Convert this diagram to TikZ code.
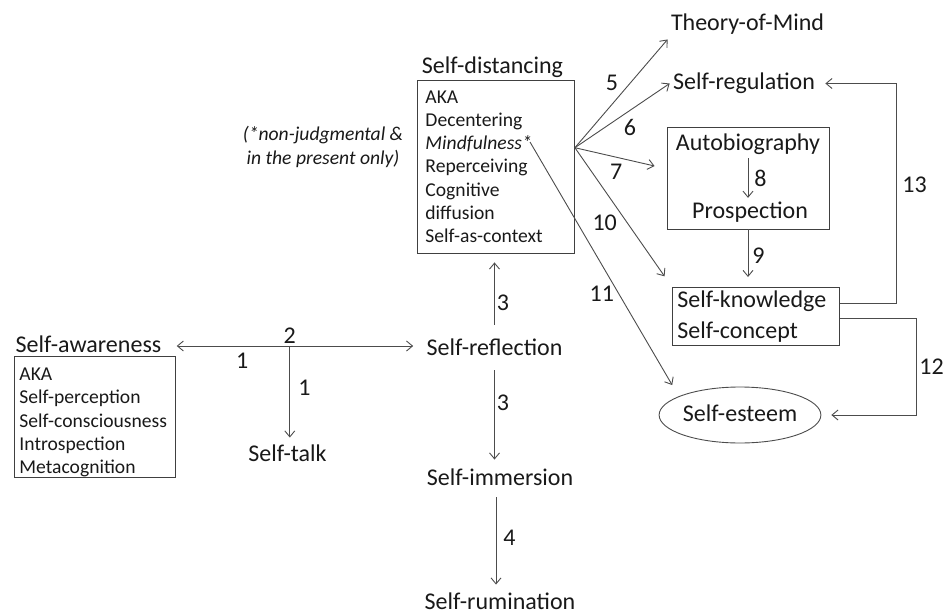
\documentclass[tikz,border=0pt]{standalone}
\usepackage{fontspec}
\setmainfont{Carlito}
\usetikzlibrary{arrows.meta,shapes.geometric}
\newcommand\lblfont{\fontsize{24}{31.7}\selectfont}
\newcommand\boxfont{\fontsize{19.6}{23.3}\selectfont}

\begin{document}
\begin{tikzpicture}[x=1pt,y=-1pt,line width=0.9pt,
  >={Straight Barb[length=6pt,width=10pt]},
  every node/.style={text=black!90},
  lbl/.style={font=\lblfont,text height=17pt,text depth=5pt,inner sep=3pt},
  num/.style={font=\lblfont,inner sep=2pt},
  listbox/.style={draw=black!75,font=\boxfont,align=left,anchor=north west,inner xsep=8pt},
  conn/.style={->,draw=black!70}]
\useasboundingbox (0,0) rectangle (945,615);
\node[lbl,anchor=base] (aware) at (88.5,352) {Self-awareness};
\node[listbox,inner xsep=5pt,inner ysep=0pt,text width=151pt] (awarebox) at (14,356) {\rule{0pt}{24pt}AKA\\Self-perception\\Self-consciousness\\Introspection\\Metacognition};
\node[lbl,anchor=base] (talk) at (287.5,461) {Self-talk};
\node[lbl,anchor=base] (reflect) at (494.5,355) {Self-reflection};
\node[lbl,anchor=base] (immerse) at (500,485) {Self-immersion};
\node[lbl,anchor=base] (rum) at (500,609.5) {Self-rumination};
\node[lbl,anchor=base] (disttitle) at (492.5,74) {Self-distancing};
\node[listbox,inner ysep=10pt,text width=141pt] (distbox) at (417,80) {AKA\\Decentering\\\textit{Mindfulness*}\\Reperceiving\\Cognitive\\diffusion\\Self-as-context};
\node[font=\boxfont\itshape,align=center] (note) at (323,147) {(*non-judgmental \&\\in the present only)};
\node[lbl,anchor=base] (tom) at (747.5,31) {Theory-of-Mind};
\node[lbl,anchor=base] (selfreg) at (744,89.5) {Self-regulation};
\node[draw=black!75,minimum width=162pt,minimum height=102pt] (autobox) at (748,178) {};
\node[lbl,anchor=base] (autobio) at (748,150) {Autobiography};
\node[lbl,anchor=base] (prosp) at (750,218.3) {Prospection};
\node[listbox,font=\lblfont,inner xsep=5pt,inner ysep=3pt,text width=157pt] (knowbox) at (672,287) {Self-knowledge\\Self-concept};
\node[ellipse,draw=black!70,minimum width=135pt,minimum height=56pt,inner sep=0pt,font=\lblfont,text height=17pt,text depth=5pt] (esteem) at (740,415) {Self-esteem};
\coordinate (fan) at ([yshift=19pt]distbox.east);
\coordinate (mindful) at (530,142);
\draw[conn,<->,shorten <=12pt,shorten >=10pt] (aware.east) -- (aware.east -| reflect.west)
  node[num,pos=0.3,below=5pt] {1}
  coordinate[pos=0.484] (split)
  node[num,pos=0.484,above] {2};
\draw[conn,shorten >=3pt] (split) -- (split |- talk.north) node[num,pos=0.44,right=6pt] {1};
\draw[conn,shorten <=10pt,shorten >=9pt] (reflect.north) -- (reflect.north |- distbox.south) node[num,pos=0.39,right] {3};
\draw[conn,shorten <=7pt,shorten >=5pt] (reflect.south) -- (reflect.south |- immerse.north) node[num,pos=0.39,right] {3};
\draw[conn,shorten <=4pt,shorten >=4.5pt] ([xshift=-4pt]immerse.south) -- ([xshift=-4pt]rum.north) node[num,pos=0.466,right=5pt] {4};
\draw[conn] (fan) -- (tom.south west) node[num,pos=0.6,left=10pt] {5};
\draw[conn] (fan) -- (selfreg.west) node[num,pos=0.58,below=6pt] {6};
\draw[conn] (fan) -- ([xshift=-12pt,yshift=12pt]autobox.west) node[num,pos=0.52,below=4pt] {7};
\draw[conn] (autobio) -- (autobio |- prosp.north) node[num,midway,right=4pt] {8};
\draw[conn,shorten >=10pt] (autobox.south) -- (autobox.south |- knowbox.north) node[num,pos=0.45,right=2pt] {9};
\draw[conn,shorten >=13pt] (fan) -- (knowbox.north west) node[num,pos=0.54,left=8pt] {10};
\draw[conn,shorten >=13pt] (mindful) -- (esteem.163) node[num,pos=0.595,left=2pt] {11};
\draw[conn,shorten >=10pt] ([yshift=-2pt]knowbox.east) -- ++(77,0) |- node[num,pos=0.25,right] {12} (esteem.east);
\draw[conn,shorten >=7pt] ([yshift=13.5pt]knowbox.east) -- ++(57,0) |- node[num,pos=0.269,right=3pt] {13} (selfreg.east);
\end{tikzpicture}
\end{document}
